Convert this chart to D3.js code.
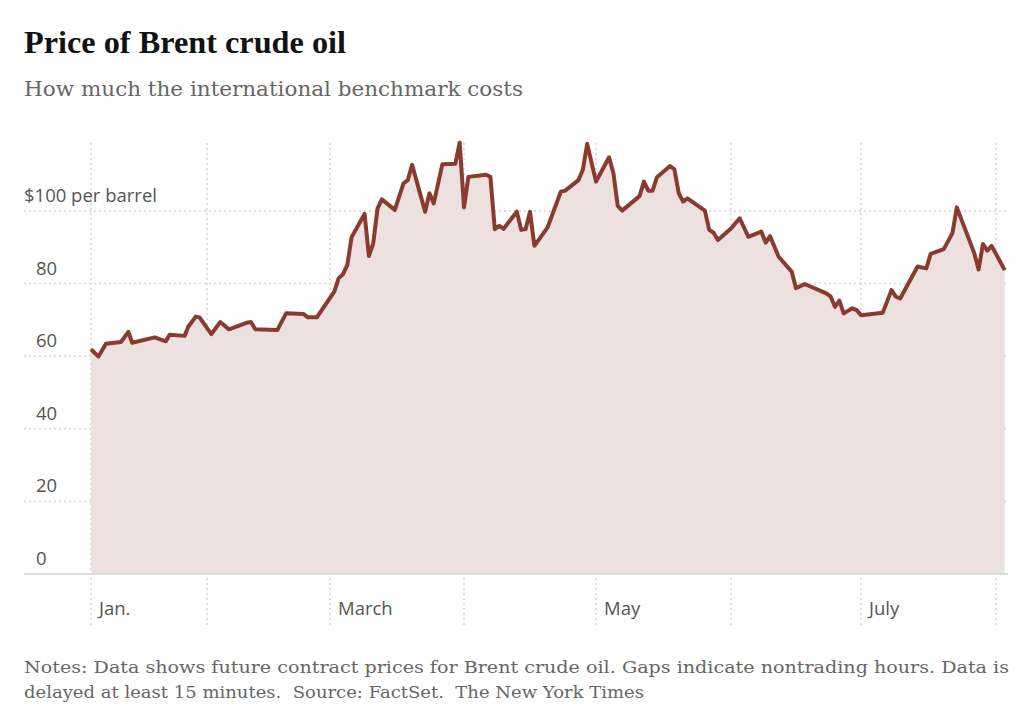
<!DOCTYPE html>
<html><head><meta charset="utf-8">
<script src="https://cdn.jsdelivr.net/npm/d3@7"></script>
<style>body{margin:0;background:#fff}</style></head>
<body><svg id="c" width="1024" height="716"></svg>
<script>
const dates = ["01-01","01-03","01-05","01-09","01-11","01-12","01-18","01-21","01-22","01-26","01-27","01-29","01-30",
"02-02","02-04","02-06","02-10","02-11","02-12","02-17","02-19","02-23","02-24","02-26",
"03-02","03-03","03-04","03-05","03-06","03-09","03-10","03-11","03-12","03-13","03-16","03-18","03-19","03-20","03-23","03-24","03-25","03-27","03-30","03-31",
"04-01","04-02","04-06","04-07","04-08","04-09","04-10","04-13","04-14","04-15","04-16","04-17","04-20","04-23","04-24","04-27","04-28","04-29",
"05-01","05-04","05-05","05-06","05-07","05-11","05-12","05-13","05-14","05-15","05-18","05-19","05-20","05-21","05-22","05-26","05-27","05-28","05-29",
"06-01","06-03","06-05","06-08","06-09","06-10","06-12","06-15","06-16","06-18","06-23","06-24","06-25","06-26","06-27","06-29","06-30",
"07-01","07-06","07-08","07-09","07-10","07-14","07-16","07-17","07-20","07-22","07-23","07-27","07-28","07-29","07-30","07-31","08-03"];
const prices = [61.9,59.9,63.4,63.9,66.7,63.7,65.2,64.1,65.9,65.6,68.1,70.9,70.7,
66.1,69.4,67.4,69.2,69.4,67.4,67.2,71.8,71.6,70.7,70.7,
77.8,81.5,82.6,85.1,92.8,99.2,87.6,91.1,100.7,103.2,100.3,107.6,108.5,112.7,99.8,104.9,102.1,112.9,113.0,118.8,
101.0,109.4,110.0,109.4,95.0,95.9,95.1,99.8,94.8,95.0,99.8,90.4,95.5,105.3,105.6,108.5,111.3,118.5,
108.1,114.8,110.4,101.4,100.1,104.1,108.1,105.6,105.6,109.3,112.4,111.5,104.9,102.6,103.5,100.1,94.8,94.0,92.0,
95.2,98.0,92.9,94.3,91.3,93.1,87.4,83.3,78.7,79.9,77.3,76.4,73.6,75.3,71.8,73.2,72.7,
71.3,72.0,78.2,76.4,75.9,84.7,84.2,88.2,89.5,93.9,101.0,88.4,83.9,90.9,89.1,90.4,83.7];
const monthStarts = ["01-01","02-01","03-01","04-01","05-01","06-01","07-01","08-01"];
const monthLabels = ["Jan.","","March","","May","","July",""];
const yTicks = [0,20,40,60,80,100];
const yTickLabels = ["0","20","40","60","80","$100 per barrel"];

const yr = "2022-";
const parse = d3.timeParse("%Y-%m-%d");
const data = dates.map((d,i)=>({date:parse(yr+d), v:prices[i]}));
const ms = monthStarts.map(d=>parse(yr+d));
const x = d3.scaleTime().domain(ms).range([91,207,330,464,596,731,861,996]);
const y = d3.scaleLinear().domain([0,100]).range([574,211]);
const svg = d3.select("#c");
const sans = "Open Sans, Liberation Sans, sans-serif";

svg.append("text").attr("x",24).attr("y",53).text("Price of Brent crude oil")
  .attr("font-family","Liberation Serif, serif").attr("font-weight","bold").attr("font-size",32).attr("fill","#121212")
  .attr("textLength",322).attr("lengthAdjust","spacingAndGlyphs");
svg.append("text").attr("x",24).attr("y",96).text("How much the international benchmark costs")
  .attr("font-family","DejaVu Serif, serif").attr("font-size",19.5).attr("fill","#666")
  .attr("textLength",499).attr("lengthAdjust","spacingAndGlyphs");

const g = svg.append("g");
g.selectAll(".hg").data(yTicks.filter(t=>t>0)).join("line")
  .attr("x1",24).attr("x2",1008).attr("y1",d=>y(d)).attr("y2",d=>y(d))
  .attr("stroke","#ddd").attr("stroke-width",2).attr("stroke-dasharray","2,3");
g.selectAll(".vg").data(ms).join("line")
  .attr("x1",d=>x(d)).attr("x2",d=>x(d)).attr("y1",143).attr("y2",627)
  .attr("stroke","#ddd").attr("stroke-width",2).attr("stroke-dasharray","2,3");

const area = d3.area().x(d=>x(d.date)).y0(y(0)).y1(d=>y(d.v));
const line = d3.line().x(d=>x(d.date)).y(d=>y(d.v));
svg.append("path").datum(data).attr("d",area).attr("fill","#ede1e0");
svg.append("line").attr("x1",24).attr("x2",1008).attr("y1",y(0)).attr("y2",y(0)).attr("stroke","#ddd").attr("stroke-width",2);
svg.append("path").datum(data).attr("d",line).attr("fill","none").attr("stroke","#8a3b2f").attr("stroke-width",4).attr("stroke-linejoin","round");

svg.selectAll(".yl").data(yTicks).join("text")
  .attr("x",d=>d===100?24:36).attr("y",d=>y(d)-9).text((d,i)=>yTickLabels[i])
  .attr("font-family",sans).attr("font-size",18.5).attr("fill","#555");
svg.selectAll(".xl").data(ms).join("text")
  .attr("x",d=>x(d)+8).attr("y",615).text((d,i)=>monthLabels[i])
  .attr("font-family",sans).attr("font-size",18.5).attr("fill","#555");

const notes = ["Notes: Data shows future contract prices for Brent crude oil. Gaps indicate nontrading hours. Data is",
"delayed at least 15 minutes.  Source: FactSet.  The New York Times"];
const notesW = [985, 620];
svg.selectAll(".n").data(notes).join("text").attr("x",24).attr("y",(d,i)=>673+i*25).text(d=>d)
  .attr("xml:space","preserve")
  .attr("font-family","DejaVu Serif, serif").attr("font-size",16.5).attr("fill","#666")
  .attr("textLength",(d,i)=>notesW[i]).attr("lengthAdjust","spacingAndGlyphs");
</script></body></html>
